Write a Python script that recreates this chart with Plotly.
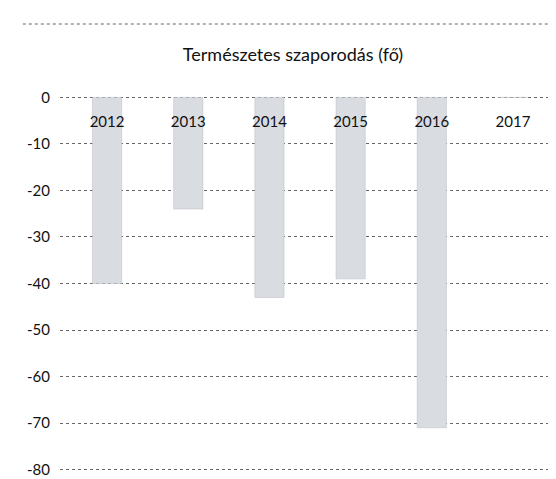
import plotly.graph_objects as go

YEARS = ["2012", "2013", "2014", "2015", "2016", "2017"]
NATURAL_INCREASE = [-40, -24, -43, -39, -71, 0]
Y_TICKS = [0, -10, -20, -30, -40, -50, -60, -70, -80]

FONT = "Lato, 'Open Sans', sans-serif"

fig = go.Figure()

fig.add_trace(
    go.Bar(
        x=YEARS, y=NATURAL_INCREASE,
        width=0.36,
        marker=dict(color="#d9dce1", line=dict(color="#b8bcc4", width=0.5)),
        showlegend=False,
    )
)

# scanned page border line at the top
fig.add_shape(
    type="line", xref="paper", yref="paper",
    x0=-0.075, x1=1.02, y0=1.192, y1=1.192,
    line=dict(color="#666", width=1, dash="dot"),
)

fig.update_layout(
    width=556, height=479,
    margin=dict(l=52, r=8, t=88, b=16, autoexpand=False),
    paper_bgcolor="white",
    plot_bgcolor="white",
    font=dict(family=FONT, color="#111"),
    title=dict(
        text="Természetes szaporodás (fő)",
        x=285 / 556, xanchor="center", y=1 - 47 / 479, yanchor="middle",
        font=dict(size=18, color="#111"),
    ),
)

fig.update_xaxes(
    type="category",
    range=[-0.58, 5.53],
    anchor="free", position=1, side="bottom",
    showgrid=False, showline=False, ticks="",
    tickfont=dict(size=15, color="#111"),
    ticklabelstandoff=15,
    automargin=False,
)
fig.update_yaxes(
    range=[-80.3, 0.3],
    tickvals=Y_TICKS,
    ticktext=[str(v) for v in Y_TICKS],
    showgrid=True, gridcolor="#666", gridwidth=1, griddash="dot",
    zeroline=False, showline=False, ticks="",
    tickfont=dict(size=15, color="#111"),
    ticklabelstandoff=9,
    automargin=False,
)

fig.write_html("out.html")
